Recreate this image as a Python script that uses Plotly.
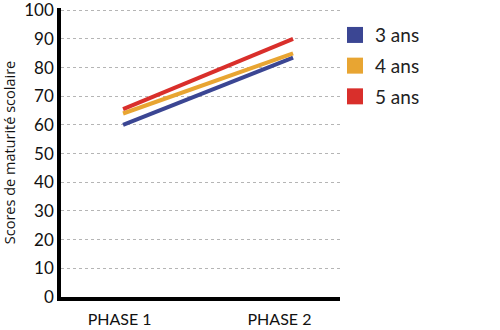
import plotly.graph_objects as go

phases = ["PHASE 1", "PHASE 2"]
phase_pos = [1, 2]
label_pos = [0.98, 1.92]
groups = ["3 ans", "4 ans", "5 ans"]
scores = {
    "3 ans": [60, 83.5],
    "4 ans": [64, 85],
    "5 ans": [65.5, 90],
}
line_colors = {"3 ans": "#3b4693", "4 ans": "#e8a532", "5 ans": "#d92f2b"}
y_ticks = list(range(0, 101, 10))

fig = go.Figure()
for g in groups:
    fig.add_trace(go.Scatter(
        x=phase_pos, y=scores[g], mode="lines",
        line=dict(color=line_colors[g], width=4),
        showlegend=False, hoverinfo="skip",
    ))
# square swatches for the legend
for g in groups:
    fig.add_trace(go.Scatter(
        x=[None], y=[None], mode="markers", name=g, legendgroup=g,
        marker=dict(symbol="square", size=16, color=line_colors[g]),
    ))

fig.update_layout(
    width=500, height=330,
    margin=dict(l=61, r=160, t=8, b=33),
    paper_bgcolor="white", plot_bgcolor="white",
    font=dict(family="Lato, Open Sans, sans-serif", color="#111"),
    legend=dict(
        x=0.982, y=0.972, xanchor="left", yanchor="top",
        font=dict(size=19, color="#222"),
        tracegroupgap=3, bgcolor="rgba(0,0,0,0)",
    ),
)
fig.update_xaxes(
    range=[0.635, 2.276],
    tickvals=label_pos, ticktext=phases,
    tickfont=dict(size=16), showgrid=False, zeroline=False,
    showline=True, linecolor="black", linewidth=3.5, ticks="",
    ticklabelstandoff=5, automargin=False,
)
fig.update_yaxes(
    range=[0, 100.8], tickvals=y_ticks,
    tickfont=dict(size=17), showgrid=True, ticklabeloverflow="allow",
    gridcolor="#b5b5b5", griddash="dot", gridwidth=1, zeroline=False,
    showline=True, linecolor="black", linewidth=3.5, ticks="",
    automargin=False,
    title=dict(text="Scores de maturité scolaire",
               font=dict(size=14.5, family="Open Sans, sans-serif"), standoff=20),
)

fig.write_html("out.html")
